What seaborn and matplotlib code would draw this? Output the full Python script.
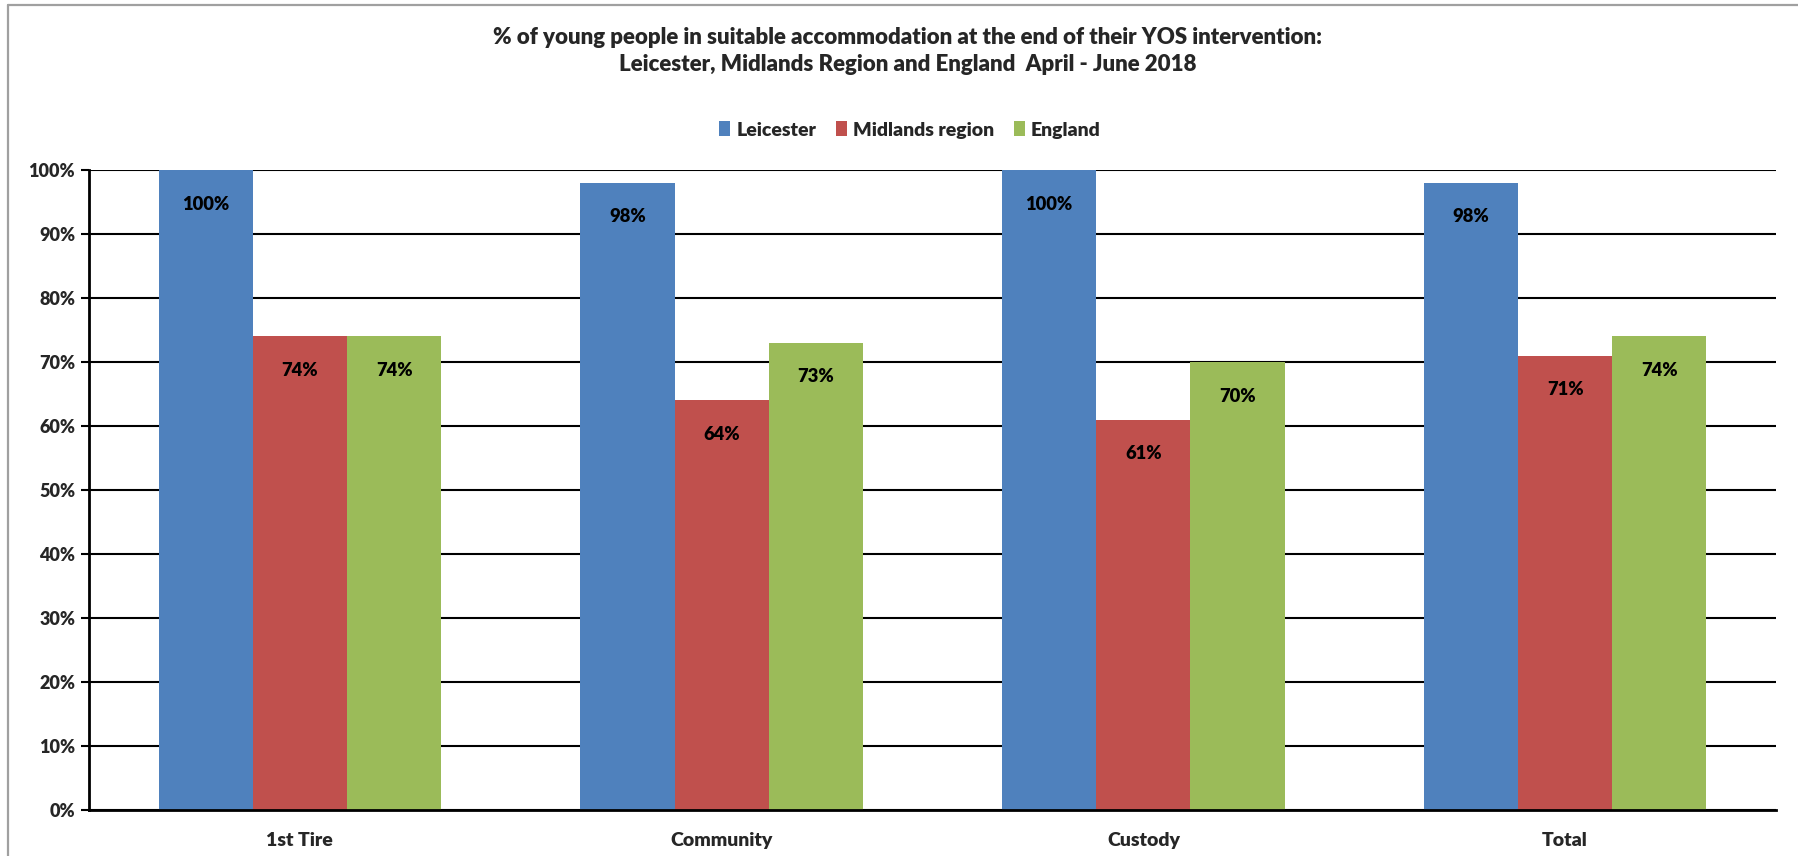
import matplotlib
matplotlib.use("Agg")
import matplotlib.pyplot as plt
from matplotlib.lines import Line2D
from matplotlib.patches import Patch
import seaborn as sns
import pandas as pd

categories = ["1st Tire", "Community", "Custody", "Total"]
series_names = ["Leicester", "Midlands region", "England"]
leicester = [100, 98, 100, 98]
midlands = [74, 64, 61, 71]
england = [74, 73, 70, 74]
colors = ["#4F81BD", "#C0504D", "#9BBB59"]
y_ticks = [0, 10, 20, 30, 40, 50, 60, 70, 80, 90, 100]
title = ("% of young people in suitable accommodation at the end of their YOS intervention:\n"
         "Leicester, Midlands Region and England  April - June 2018")

sns.set_theme(style="white")
plt.rcParams["font.family"] = ["Lato", "DejaVu Sans"]
plt.rcParams["font.weight"] = "bold"

rows = []
for name, vals in zip(series_names, [leicester, midlands, england]):
    for cat, v in zip(categories, vals):
        rows.append({"Category": cat, "Series": name, "Value": v})
df = pd.DataFrame(rows)

W, H = 1798, 856
fig = plt.figure(figsize=(W / 100, H / 100), dpi=100)
ax = fig.add_axes([89 / W, 1 - 810 / H, (1776 - 89) / W, (810 - 170) / H])

sns.barplot(data=df, x="Category", y="Value", hue="Series", order=categories,
            hue_order=series_names, palette=colors, width=0.67, gap=0,
            saturation=1, ax=ax, legend=False, zorder=3, linewidth=0,
            edgecolor="none")

for bar_container, vals in zip(ax.containers, [leicester, midlands, england]):
    for patch, v in zip(bar_container.patches, vals):
        ax.annotate(f"{v}%", xy=(patch.get_x() + patch.get_width() / 2, v),
                    xytext=(0, -24.5), textcoords="offset points",
                    ha="center", va="center", fontsize=13.2, fontweight="heavy",
                    color="black", zorder=5)

ax.set_ylim(0, 100)
ax.set_xlim(-0.5, len(categories) - 0.5)
ax.set_yticks(y_ticks)
ax.set_yticklabels([f"{t}%" for t in y_ticks], fontsize=13, fontweight="heavy")
ax.set_xticks(range(len(categories)))
ax.set_xticklabels(categories, fontsize=14, fontweight="heavy")
ax.set_xticks([i - 0.5 for i in range(len(categories) + 1)], minor=True)
ax.tick_params(axis="x", which="major", length=0, pad=16)
ax.tick_params(axis="x", which="minor", length=6, width=1.5, color="black", direction="out")
ax.tick_params(axis="y", which="major", length=6, width=1.5, color="black", direction="out", pad=4, left=True)
ax.set_xlabel("")
ax.set_ylabel("")

ax.yaxis.grid(True, color="black", linewidth=1.5, zorder=0)
ax.set_axisbelow(True)
for side in ["top", "right"]:
    ax.spines[side].set_visible(False)
for side in ["left", "bottom"]:
    ax.spines[side].set_visible(True)
    ax.spines[side].set_color("black")
    ax.spines[side].set_linewidth(2)
ax.spines["bottom"].set_zorder(6)

fig.text(0.505, 1 - 51 / H, title, ha="center", va="center", fontsize=16,
         fontweight="heavy", linespacing=1.3)

handles = [Patch(facecolor=c, edgecolor="none") for c in colors]
fig.legend(handles, series_names, loc="center", bbox_to_anchor=(0.506, 1 - 130 / H),
           ncol=3, frameon=False, handlelength=0.6, handleheight=0.8,
           handletextpad=0.3, columnspacing=1.0, prop={"weight": "heavy", "size": 14})

# chart-area border (top and left edges)
fig.add_artist(Line2D([8 / W, 8 / W], [0, 1 - 5 / H], transform=fig.transFigure,
                      color="#A0A0A0", linewidth=1.6))
fig.add_artist(Line2D([8 / W, 1], [1 - 5 / H, 1 - 5 / H], transform=fig.transFigure,
                      color="#A0A0A0", linewidth=1.6))

fig.savefig("out.png", dpi=100, facecolor="white")
